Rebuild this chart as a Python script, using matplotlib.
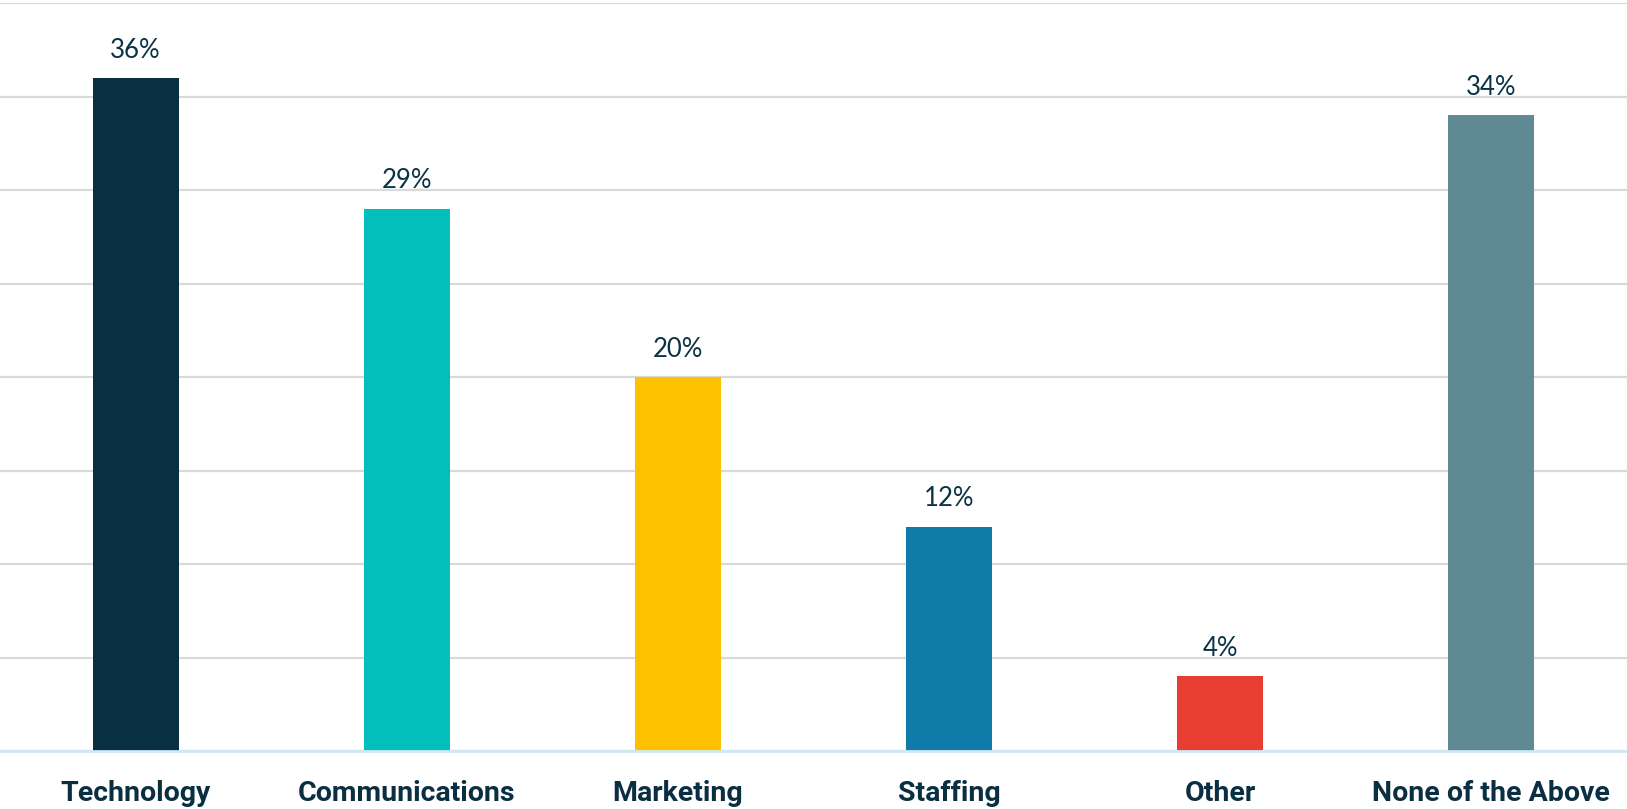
import matplotlib
matplotlib.use("Agg")
import matplotlib.pyplot as plt
from matplotlib import font_manager

categories = ["Technology", "Communications", "Marketing", "Staffing", "Other", "None of the Above"]
values = [36, 29, 20, 12, 4, 34]
colors = ["#093042", "#02BFBB", "#FDC100", "#0E7BA8", "#E83E32", "#5F8A93"]
yticks = [0, 5, 10, 15, 20, 25, 30, 35, 40]

names = {f.name for f in font_manager.fontManager.ttflist}
cond = "Liberation Sans Narrow" if "Liberation Sans Narrow" in names else "Roboto"

fig = plt.figure(figsize=(16.27, 8.09), dpi=100)
ax = fig.add_axes([0, 58/809, 1, 748/809])
x = list(range(len(categories)))
ax.bar(x, values, width=0.317, color=colors, zorder=3)
ax.set_xlim(-0.5, len(categories) - 0.5)
ax.set_ylim(0, 40)
ax.set_yticks(yticks)
ax.yaxis.grid(True, color="#d9d9d9", linewidth=1.6, zorder=0)
ax.tick_params(axis="y", left=False, labelleft=False)
ax.tick_params(axis="x", length=0, pad=21)
ax.set_xticks(x)
ax.set_xticklabels(categories, fontsize=20.5, fontweight="bold", color="#0b2f42",
                   family=[cond, "DejaVu Sans"])
for s in ["top", "left", "right"]:
    ax.spines[s].set_visible(False)
ax.spines["bottom"].set_color("#cfe9f5")
ax.spines["bottom"].set_linewidth(2)
ax.spines["bottom"].set_zorder(4)

for xi, v in zip(x, values):
    ax.annotate(f"{v}%", (xi, v), xytext=(0, 11), textcoords="offset points",
                ha="center", va="bottom", fontsize=18.5, color="#0b3346",
                family=["Lato", "DejaVu Sans"])

fig.savefig("out.png", dpi=100)
